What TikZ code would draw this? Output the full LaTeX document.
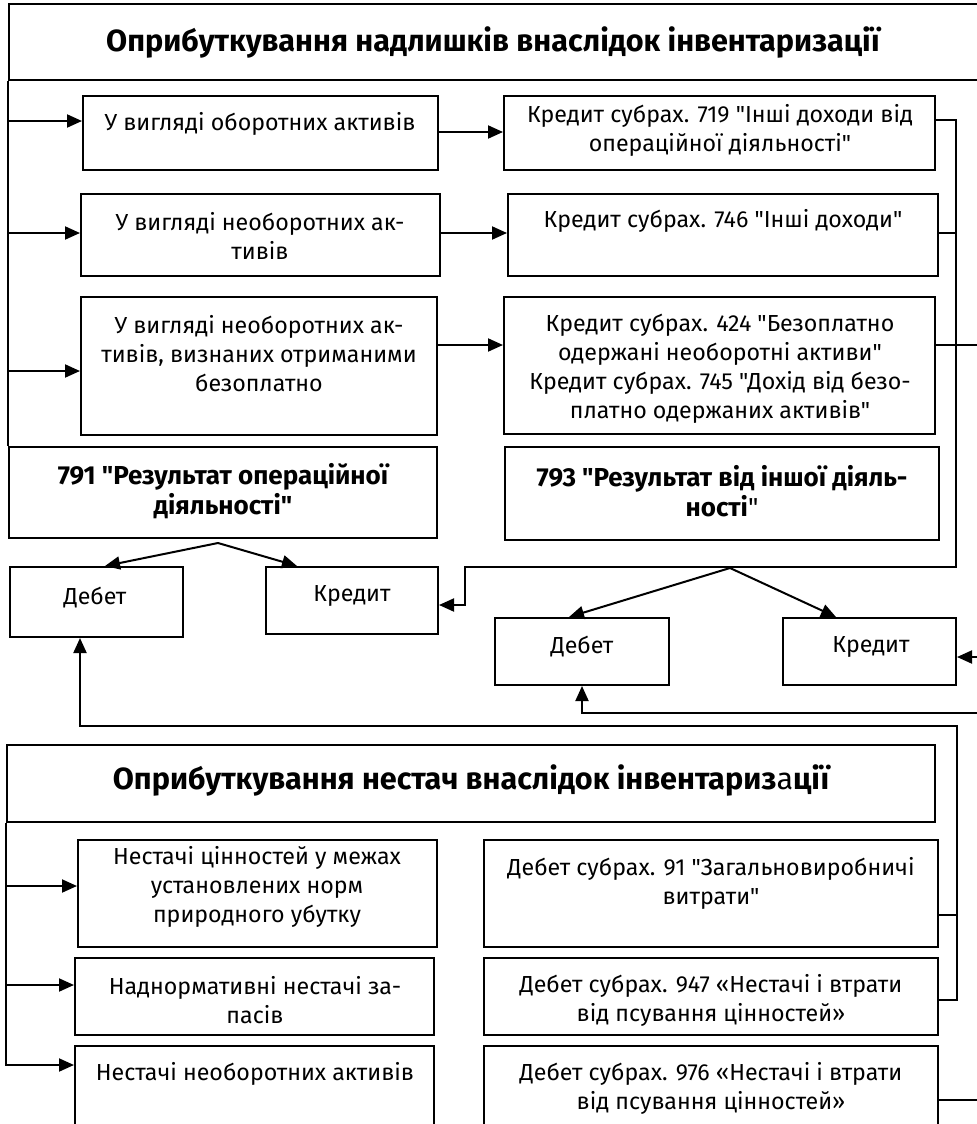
\documentclass[tikz,border=0pt]{standalone}
\usepackage{fontspec}
\setmainfont{Fira Sans}
\newfontfamily\plainsans{Fira Sans}
\usetikzlibrary{arrows.meta,fit}

\begin{document}
\begin{tikzpicture}[x=0.5pt, y=-0.5pt, line width=1pt,
    box/.style={draw, rectangle, inner sep=0pt},
    txt/.style={align=center, inner sep=0pt, font=\plainsans\fontsize{11.6}{14.5}\selectfont},
    hdr/.style={align=center, inner sep=0pt, font=\plainsans\fontsize{13}{15}\selectfont\bfseries},
    ttl/.style={inner sep=0pt, font=\plainsans\fontsize{15.3}{17}\selectfont\bfseries},
    arr/.style={-{Triangle[length=7.5pt,width=6.5pt]}}]
    \useasboundingbox (0,0) rectangle (976,1124);

    % Upper part: surpluses
    \node[box, fit={(9,4) (995,80)}] (top) {};
    \node[ttl] (top-t) at (493,42) {Оприбуткування надлишків внаслідок інвентаризації};

    \node[box, fit={(83,96) (438,170)}] (a1) {};
    \node[txt] (a1-t) at (260,124) {У вигляді оборотних активів};
    \node[box, fit={(81,194) (440,276)}] (a2) {};
    \node[txt] (a2-t) at (260,236) {У вигляді необоротних ак-\\тивів};
    \node[box, fit={(81,297) (437,435)}] (a3) {};
    \node[txt] (a3-t) at (259,354) {У вигляді необоротних ак-\\тивів, визнаних отриманими\\безоплатно};

    \node[box, fit={(504,96) (935,170)}] (b1) {};
    \node[txt] (b1-t) at (720,130) {Кредит субрах. 719 "Інші доходи від\\операційної діяльності"};
    \node[box, fit={(508,194) (938,276)}] (b2) {};
    \node[txt] (b2-t) at (723,221) {Кредит субрах. 746 "Інші доходи"};
    \node[box, fit={(504,297) (935,434)}] (b3) {};
    \node[txt] (b3-t) at (720,369) {Кредит субрах. 424 "Безоплатно\\одержані необоротні активи"\\Кредит субрах. 745 "Дохід від безо-\\платно одержаних активів"};

    \node[box, fit={(9,447) (437,538)}] (r791) {};
    \node[hdr] (r791-t) at (223,491) {791 "Результат операційної\\діяльності"};
    \node[box, fit={(505,447) (939,540)}] (r793) {};
    \node[hdr] (r793-t) at (722,491) {793 "Результат від іншої діяль-\\ності{\mdseries "}};

    % Debit / credit of 791 and 793
    \node[box, fit={(10,567) (183,637)}] (deb1) {};
    \node[txt] (deb1-t) at (95,598) {Дебет};
    \node[box, fit={(266,567) (438,634)}] (kred1) {};
    \node[txt] (kred1-t) at (352,596) {Кредит};
    \node[box, fit={(495,618) (669,685)}] (deb2) {};
    \node[txt] (deb2-t) at (582,647) {Дебет};
    \node[box, fit={(783,618) (956,685)}] (kred2) {};
    \node[txt] (kred2-t) at (871,647) {Кредит};

    % Lower part: shortages
    \node[box, fit={(7,745) (935,822)}] (low) {};
    \node[ttl] (low-t) at (471,780) {Оприбуткування нестач внаслідок інвентариз{\mdseries а}ції};

    \node[box, fit={(78,840) (437,947)}] (c1) {};
    \node[txt] (c1-t) at (257,887) {Нестачі цінностей у межах\\установлених норм\\природного убутку};
    \node[box, fit={(75,958) (434,1035)}] (c2) {};
    \node[txt] (c2-t) at (255,1000) {Наднормативні нестачі за-\\пасів};
    \node[box, fit={(75,1046) (434,1140)}] (c3) {};
    \node[txt] (c3-t) at (255,1074) {Нестачі необоротних активів};

    \node[box, fit={(484,840) (938,947)}] (e1) {};
    \node[txt] (e1-t) at (711,883) {Дебет субрах. 91 "Загальновиробничі\\витрати"};
    \node[box, fit={(484,958) (938,1035)}] (e2) {};
    \node[txt] (e2-t) at (711,1000) {Дебет субрах. 947 «Нестачі і втрати\\від псування цінностей»};
    \node[box, fit={(484,1046) (938,1140)}] (e3) {};
    \node[txt] (e3-t) at (711,1088) {Дебет субрах. 976 «Нестачі і втрати\\від псування цінностей»};

    % Helper points of the lines
    \coordinate (bus1) at (956,567);
    \coordinate (bus2) at (465,567);
    \coordinate (bus3) at (957,726);
    \coordinate (s1) at (218,543);
    \coordinate (s2) at (730,568);
    \coordinate (out1) at (995,345);
    \coordinate (out2) at (995,657);
    \coordinate (out3) at (995,713);
    \coordinate (out4) at (995,1100);

    % Connectors, upper part
    \draw (top.south west) -- (r791.north west);
    \foreach \n/\y in {a1/121, a2/233, a3/371}
        \draw[arr] (top.west |- 0,\y) -- (\n.west |- 0,\y);
    \foreach \a/\b/\y in {a1/b1/132, a2/b2/233, a3/b3/345}
        \draw[arr] (\a.east |- 0,\y) -- (\b.west |- 0,\y);
    \draw[arr] (b1.east |- 0,120) -| (bus1) -- (bus2) |- (kred1.east |- 0,605);
    \draw (b2.east |- 0,233) -- (bus1 |- 0,233);
    \draw (b3.east |- 0,345) -- (out1);

    \draw[arr] (s1) -- (deb1.north -| 105,0);
    \draw[arr] (s1) -- (kred1.north -| 297,0);
    \draw[arr] (s2) -- (deb2.north -| 569,0);
    \draw[arr] (s2) -- (kred2.north -| 836,0);

    \draw[arr] (out2) -- (kred2.east |- out2);
    \draw[arr] (out3) -| (deb2.south);

    % Connectors, lower part
    \draw[arr] (e2.east |- 0,1000) -| (bus3) -| (deb1.south -| 80,0);
    \draw (e1.east |- 0,915) -- (bus3 |- 0,915);
    \draw (e3.east |- 0,1100) -- (out4);
    \foreach \n/\y in {c1/886, c2/985}
        \draw[arr] (low.west |- 0,\y) -- (\n.west |- 0,\y);
    \draw[arr] (low.south west) |- (c3.west |- 0,1065);

\end{tikzpicture}
\end{document}
